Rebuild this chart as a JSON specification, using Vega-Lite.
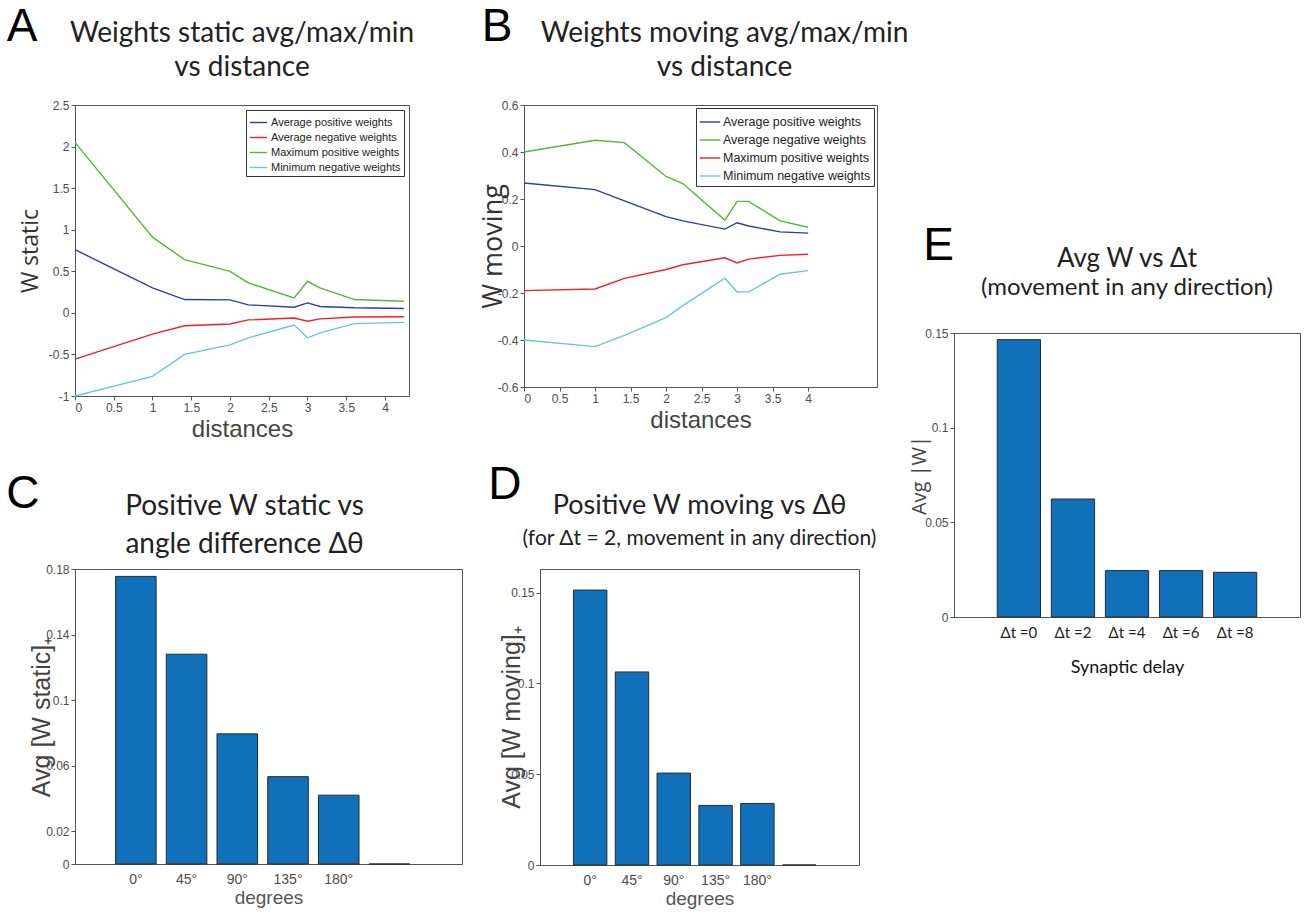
{
  "$schema": "https://vega.github.io/schema/vega-lite/v6.json",
  "background": "white",
  "padding": {"left": 6, "top": 3, "right": 0, "bottom": 0},
  "resolve": {"scale": {"color": "independent"}, "legend": {"color": "independent"}},
  "datasets": {
    "lineA": [
      {"distance": 0, "series": "Average positive weights", "w": 0.76},
      {"distance": 1, "series": "Average positive weights", "w": 0.30},
      {"distance": 1.414, "series": "Average positive weights", "w": 0.16},
      {"distance": 2, "series": "Average positive weights", "w": 0.156},
      {"distance": 2.236, "series": "Average positive weights", "w": 0.096},
      {"distance": 2.828, "series": "Average positive weights", "w": 0.068},
      {"distance": 3, "series": "Average positive weights", "w": 0.12},
      {"distance": 3.162, "series": "Average positive weights", "w": 0.076},
      {"distance": 3.606, "series": "Average positive weights", "w": 0.061},
      {"distance": 4.243, "series": "Average positive weights", "w": 0.053},
      {"distance": 0, "series": "Average negative weights", "w": -0.557},
      {"distance": 1, "series": "Average negative weights", "w": -0.256},
      {"distance": 1.414, "series": "Average negative weights", "w": -0.155},
      {"distance": 2, "series": "Average negative weights", "w": -0.134},
      {"distance": 2.236, "series": "Average negative weights", "w": -0.085},
      {"distance": 2.828, "series": "Average negative weights", "w": -0.062},
      {"distance": 3, "series": "Average negative weights", "w": -0.10},
      {"distance": 3.162, "series": "Average negative weights", "w": -0.072},
      {"distance": 3.606, "series": "Average negative weights", "w": -0.049},
      {"distance": 4.243, "series": "Average negative weights", "w": -0.046},
      {"distance": 0, "series": "Maximum positive weights", "w": 2.05},
      {"distance": 1, "series": "Maximum positive weights", "w": 0.91},
      {"distance": 1.414, "series": "Maximum positive weights", "w": 0.64},
      {"distance": 2, "series": "Maximum positive weights", "w": 0.50},
      {"distance": 2.236, "series": "Maximum positive weights", "w": 0.36},
      {"distance": 2.828, "series": "Maximum positive weights", "w": 0.18},
      {"distance": 3, "series": "Maximum positive weights", "w": 0.38},
      {"distance": 3.162, "series": "Maximum positive weights", "w": 0.30},
      {"distance": 3.606, "series": "Maximum positive weights", "w": 0.16},
      {"distance": 4.243, "series": "Maximum positive weights", "w": 0.14},
      {"distance": 0, "series": "Minimum negative weights", "w": -1.0},
      {"distance": 1, "series": "Minimum negative weights", "w": -0.764},
      {"distance": 1.414, "series": "Minimum negative weights", "w": -0.50},
      {"distance": 2, "series": "Minimum negative weights", "w": -0.386},
      {"distance": 2.236, "series": "Minimum negative weights", "w": -0.30},
      {"distance": 2.828, "series": "Minimum negative weights", "w": -0.146},
      {"distance": 3, "series": "Minimum negative weights", "w": -0.30},
      {"distance": 3.162, "series": "Minimum negative weights", "w": -0.24},
      {"distance": 3.606, "series": "Minimum negative weights", "w": -0.13},
      {"distance": 4.243, "series": "Minimum negative weights", "w": -0.114}
    ],
    "lineB": [
      {"distance": 0, "series": "Average positive weights", "w": 0.268},
      {"distance": 1, "series": "Average positive weights", "w": 0.24},
      {"distance": 1.414, "series": "Average positive weights", "w": 0.192},
      {"distance": 2, "series": "Average positive weights", "w": 0.125},
      {"distance": 2.236, "series": "Average positive weights", "w": 0.107},
      {"distance": 2.828, "series": "Average positive weights", "w": 0.072},
      {"distance": 3, "series": "Average positive weights", "w": 0.099},
      {"distance": 3.162, "series": "Average positive weights", "w": 0.085},
      {"distance": 3.606, "series": "Average positive weights", "w": 0.06},
      {"distance": 4, "series": "Average positive weights", "w": 0.055},
      {"distance": 0, "series": "Average negative weights", "w": 0.40},
      {"distance": 1, "series": "Average negative weights", "w": 0.45},
      {"distance": 1.414, "series": "Average negative weights", "w": 0.44},
      {"distance": 2, "series": "Average negative weights", "w": 0.296},
      {"distance": 2.236, "series": "Average negative weights", "w": 0.266},
      {"distance": 2.828, "series": "Average negative weights", "w": 0.11},
      {"distance": 3, "series": "Average negative weights", "w": 0.19},
      {"distance": 3.162, "series": "Average negative weights", "w": 0.19},
      {"distance": 3.606, "series": "Average negative weights", "w": 0.107},
      {"distance": 4, "series": "Average negative weights", "w": 0.08},
      {"distance": 0, "series": "Maximum positive weights", "w": -0.19},
      {"distance": 1, "series": "Maximum positive weights", "w": -0.183},
      {"distance": 1.414, "series": "Maximum positive weights", "w": -0.138},
      {"distance": 2, "series": "Maximum positive weights", "w": -0.10},
      {"distance": 2.236, "series": "Maximum positive weights", "w": -0.08},
      {"distance": 2.828, "series": "Maximum positive weights", "w": -0.05},
      {"distance": 3, "series": "Maximum positive weights", "w": -0.072},
      {"distance": 3.162, "series": "Maximum positive weights", "w": -0.056},
      {"distance": 3.606, "series": "Maximum positive weights", "w": -0.04},
      {"distance": 4, "series": "Maximum positive weights", "w": -0.035},
      {"distance": 0, "series": "Minimum negative weights", "w": -0.40},
      {"distance": 1, "series": "Minimum negative weights", "w": -0.428},
      {"distance": 1.414, "series": "Minimum negative weights", "w": -0.38},
      {"distance": 2, "series": "Minimum negative weights", "w": -0.305},
      {"distance": 2.236, "series": "Minimum negative weights", "w": -0.254},
      {"distance": 2.828, "series": "Minimum negative weights", "w": -0.137},
      {"distance": 3, "series": "Minimum negative weights", "w": -0.196},
      {"distance": 3.162, "series": "Minimum negative weights", "w": -0.195},
      {"distance": 3.606, "series": "Minimum negative weights", "w": -0.12},
      {"distance": 4, "series": "Minimum negative weights", "w": -0.105}
    ],
    "barC": [
      {"angle": "0°", "value": 0.1755},
      {"angle": "45°", "value": 0.128},
      {"angle": "90°", "value": 0.0794},
      {"angle": "135°", "value": 0.0533},
      {"angle": "180°", "value": 0.042},
      {"angle": " ", "value": 0}
    ],
    "barD": [
      {"angle": "0°", "value": 0.1514},
      {"angle": "45°", "value": 0.1063},
      {"angle": "90°", "value": 0.0506},
      {"angle": "135°", "value": 0.0328},
      {"angle": "180°", "value": 0.0339},
      {"angle": " ", "value": 0}
    ],
    "barE": [
      {"delay": "Δt =0", "value": 0.1465},
      {"delay": "Δt =2", "value": 0.0623},
      {"delay": "Δt =4", "value": 0.0245},
      {"delay": "Δt =6", "value": 0.0245},
      {"delay": "Δt =8", "value": 0.0236}
    ]
  },
  "config": {
    "view": {"stroke": "#555", "strokeWidth": 1},
    "axis": {
      "grid": false,
      "labelFont": "Liberation Sans",
      "labelFontSize": 12,
      "labelColor": "#4d4d4d",
      "titleFont": "Liberation Sans",
      "titleFontWeight": "normal",
      "titleColor": "#444",
      "domainColor": "#555",
      "tickColor": "#555",
      "tickSize": 4
    },
    "title": {"font": "Lato", "fontWeight": "normal", "color": "#222", "subtitleFont": "Lato", "subtitleColor": "#222"},
    "concat": {"spacing": 0}
  },
  "hconcat": [
    {
      "spacing": 19,
      "resolve": {"scale": {"color": "independent"}, "legend": {"color": "independent"}},
      "vconcat": [
        {
          "spacing": 63,
          "resolve": {"scale": {"color": "independent"}, "legend": {"color": "independent"}},
          "hconcat": [
            {
              "resolve": {"scale": {"color": "independent"}, "legend": {"color": "independent"}},
              "title": {"text": "A", "anchor": "start", "frame": "bounds", "font": "Liberation Sans", "fontSize": 46, "color": "#000", "offset": -31, "dx": -12},
              "vconcat": [
                {
                  "width": 334,
                  "height": 291,
                  "title": {"text": ["Weights static avg/max/min", "vs distance"], "fontSize": 28, "lineHeight": 34, "offset": 17},
                  "data": {"name": "lineA"},
                  "mark": {"type": "line", "strokeWidth": 1.4},
                  "encoding": {
                    "x": {"field": "distance", "type": "quantitative", "scale": {"domain": [0, 4.31], "nice": false, "zero": false},
                      "axis": {"values": [0, 0.5, 1, 1.5, 2, 2.5, 3, 3.5, 4], "labelExpr": "toString(datum.value)", "title": "distances", "titleFontSize": 24, "titlePadding": 4}},
                    "y": {"field": "w", "type": "quantitative", "scale": {"domain": [-1, 2.5], "nice": false, "zero": false},
                      "axis": {"values": [-1, -0.5, 0, 0.5, 1, 1.5, 2, 2.5], "labelExpr": "toString(datum.value)", "title": "W static", "titleFont": "Open Sans", "titleFontSize": 23, "titleColor": "#333", "titlePadding": 6}},
                    "color": {"field": "series", "type": "nominal",
                      "scale": {"domain": ["Average positive weights", "Average negative weights", "Maximum positive weights", "Minimum negative weights"], "range": ["#2b3f9c", "#ec2228", "#5bb43a", "#62c7df"]},
                      "legend": {"title": null, "orient": "top-right", "offset": 5, "fillColor": "white", "strokeColor": "#333", "padding": 3, "symbolType": "stroke", "symbolSize": 300, "symbolStrokeWidth": 1.4, "labelFont": "Liberation Sans", "labelFontSize": 11, "labelColor": "#222", "rowPadding": -1, "labelOffset": 3}}
                  }
                }
              ]
            },
            {
              "resolve": {"scale": {"color": "independent"}, "legend": {"color": "independent"}},
              "title": {"text": "B", "anchor": "start", "frame": "bounds", "font": "Liberation Sans", "fontSize": 46, "color": "#000", "offset": -31, "dx": 3},
              "vconcat": [
                {
                  "width": 353,
                  "height": 282,
                  "title": {"text": ["Weights moving avg/max/min", "vs distance"], "fontSize": 28, "lineHeight": 34, "offset": 17, "dx": 24},
                  "data": {"name": "lineB"},
                  "mark": {"type": "line", "strokeWidth": 1.4},
                  "encoding": {
                    "x": {"field": "distance", "type": "quantitative", "scale": {"domain": [0, 4.97], "nice": false, "zero": false},
                      "axis": {"values": [0, 0.5, 1, 1.5, 2, 2.5, 3, 3.5, 4], "labelExpr": "toString(datum.value)", "title": "distances", "titleFontSize": 24, "titlePadding": 4}},
                    "y": {"field": "w", "type": "quantitative", "scale": {"domain": [-0.6, 0.6], "nice": false, "zero": false},
                      "axis": {"values": [-0.6, -0.4, -0.2, 0, 0.2, 0.4, 0.6], "labelExpr": "toString(datum.value)", "title": "W moving", "titleFont": "Open Sans", "titleFontSize": 27, "titleColor": "#333", "titlePadding": -10}},
                    "color": {"field": "series", "type": "nominal",
                      "scale": {"domain": ["Average positive weights", "Average negative weights", "Maximum positive weights", "Minimum negative weights"], "range": ["#2b3f9c", "#5bb43a", "#ec2228", "#62c7df"]},
                      "legend": {"title": null, "orient": "top-right", "offset": 3, "fillColor": "white", "strokeColor": "#333", "padding": 3, "symbolType": "stroke", "symbolSize": 420, "symbolStrokeWidth": 1.4, "labelFont": "Liberation Sans", "labelFontSize": 12.5, "labelColor": "#222", "rowPadding": -3, "labelOffset": 2}}
                  }
                }
              ]
            }
          ]
        },
        {
          "spacing": 25,
          "hconcat": [
            {
              "title": {"text": "C", "anchor": "start", "frame": "bounds", "font": "Liberation Sans", "fontSize": 46, "color": "#000", "offset": -25, "dx": -23},
              "vconcat": [
                {
                  "width": 387,
                  "height": 295,
                  "title": {"text": ["Positive W static vs", "angle difference Δθ"], "fontSize": 28, "lineHeight": 38, "offset": 4, "dx": -24},
                  "data": {"name": "barC"},
                  "mark": {"type": "bar", "color": "#1170ba", "stroke": "#2a2a2a", "strokeWidth": 1},
                  "encoding": {
                    "x": {"field": "angle", "type": "nominal", "sort": null,
                      "scale": {"paddingInner": 0.2, "paddingOuter": 0.915, "align": 0.437},
                      "axis": {"labelAngle": 0, "ticks": false, "labelFontSize": 14, "labelPadding": 8, "title": "degrees", "titleFontSize": 19, "titleColor": "#555", "titlePadding": 2}},
                    "y": {"field": "value", "type": "quantitative", "scale": {"domain": [0, 0.18], "nice": false},
                      "axis": {"values": [0, 0.02, 0.06, 0.1, 0.14, 0.18], "labelExpr": "toString(datum.value)", "title": "Avg [W static]₊", "titleFontSize": 25, "titleColor": "#444", "titlePadding": -9}}
                  }
                }
              ]
            },
            {
              "title": {"text": "D", "anchor": "start", "frame": "bounds", "font": "Liberation Sans", "fontSize": 46, "color": "#000", "offset": -17, "dx": -11},
              "vconcat": [
                {
                  "width": 319,
                  "height": 296,
                  "title": {"text": "Positive W moving vs Δθ", "subtitle": "(for Δt = 2, movement in any direction)", "fontSize": 27, "subtitleFontSize": 21, "subtitlePadding": 8, "offset": 19},
                  "data": {"name": "barD"},
                  "mark": {"type": "bar", "color": "#1170ba", "stroke": "#2a2a2a", "strokeWidth": 1},
                  "encoding": {
                    "x": {"field": "angle", "type": "nominal", "sort": null,
                      "scale": {"paddingInner": 0.2, "paddingOuter": 0.915, "align": 0.437},
                      "axis": {"labelAngle": 0, "ticks": false, "labelFontSize": 14, "labelPadding": 8, "title": "degrees", "titleFontSize": 19, "titleColor": "#555", "titlePadding": 2}},
                    "y": {"field": "value", "type": "quantitative", "scale": {"domain": [0, 0.163], "nice": false},
                      "axis": {"values": [0, 0.05, 0.1, 0.15], "labelExpr": "toString(datum.value)", "title": "Avg [W moving]₊", "titleFontSize": 25, "titleColor": "#444", "titlePadding": -14}}
                  }
                }
              ]
            }
          ]
        }
      ]
    },
    {
      "spacing": 0,
      "vconcat": [
        {
          "width": 10,
          "height": 117,
          "view": {"stroke": null},
          "data": {"values": [{"t": ""}]},
          "mark": {"type": "text"},
          "encoding": {"text": {"field": "t", "type": "nominal"}}
        },
        {
          "title": {"text": "E", "anchor": "start", "frame": "bounds", "font": "Liberation Sans", "fontSize": 46, "color": "#000", "offset": -24, "dx": 14},
          "vconcat": [
            {
              "width": 346,
              "height": 284,
              "title": {"text": "Avg W vs Δt", "subtitle": "(movement in any direction)", "fontSize": 26, "subtitleFontSize": 24, "subtitlePadding": 4, "offset": 27},
              "data": {"name": "barE"},
              "mark": {"type": "bar", "color": "#1170ba", "stroke": "#2a2a2a", "strokeWidth": 1},
              "encoding": {
                "x": {"field": "delay", "type": "nominal", "sort": null,
                  "scale": {"paddingInner": 0.2, "paddingOuter": 0.8, "align": 0.5},
                  "axis": {"labelAngle": 0, "ticks": false, "labelFont": "Lato", "labelFontSize": 15, "labelColor": "#222", "labelPadding": 8, "title": "Synaptic delay", "titleFont": "Lato", "titleFontSize": 18, "titleColor": "#111", "titlePadding": 18}},
                "y": {"field": "value", "type": "quantitative", "scale": {"domain": [0, 0.15], "nice": false},
                  "axis": {"values": [0, 0.05, 0.1, 0.15], "labelExpr": "toString(datum.value)", "title": "Avg |W|", "titleFont": "Open Sans", "titleFontSize": 20, "titleColor": "#444", "titlePadding": -5}}
              }
            }
          ]
        }
      ]
    }
  ]
}
